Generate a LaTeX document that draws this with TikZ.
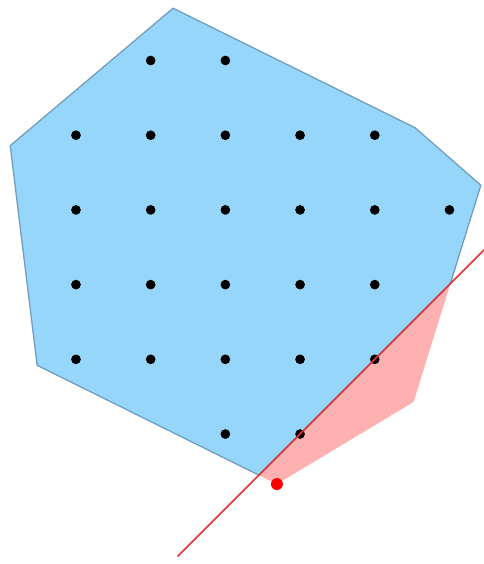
\documentclass[tikz,border=0pt]{standalone}
\usepackage{xcolor}
\usepackage{tikz}

\definecolor{polyblue}{RGB}{150,214,251}
\definecolor{polyedge}{RGB}{115,158,190}
\definecolor{cutpink}{RGB}{255,176,176}
\definecolor{cutred}{RGB}{228,50,55}

\begin{document}
\begin{tikzpicture}[
  lattice/.style={circle, fill=black, inner sep=0pt, minimum size=0.13cm},
  optpt/.style={circle, fill=red, inner sep=0pt, minimum size=0.16cm},
  cutline/.style={cutred, line width=0.6pt},
  relax/.style={fill=polyblue, draw=polyedge, line width=0.5pt}
]
  \useasboundingbox (-1.017,-1.740) rectangle (5.449,5.810);

  % corners of the relaxation
  \coordinate (v1) at (1.30,5.70);
  \coordinate (v2) at (4.54,4.10);
  \coordinate (v3) at (5.42,3.33);
  \coordinate (v4) at (4.52,0.43);
  \coordinate (v5) at (2.69,-0.67);
  \coordinate (v6) at (-0.52,0.92);
  \coordinate (v7) at (-0.88,3.86);
  % where the cut meets the boundary
  \coordinate (c1) at (5.01,2.01);
  \coordinate (c2) at (2.449,-0.551);
  % ends of the cut
  \coordinate (cutlo) at (1.36,-1.64);
  \coordinate (cuthi) at (5.47,2.47);

  % part cut off
  \fill[cutpink] (c1) -- (v4) -- (v5) -- (c2) -- cycle;
  % part kept
  \filldraw[relax] (v1) -- (v2) -- (v3) -- (c1) -- (c2) -- (v6) -- (v7) -- cycle;

  % integer points
  \foreach \i/\j in {1/5, 2/5,
                     0/4, 1/4, 2/4, 3/4, 4/4,
                     0/3, 1/3, 2/3, 3/3, 4/3, 5/3,
                     0/2, 1/2, 2/2, 3/2, 4/2,
                     0/1, 1/1, 2/1, 3/1, 4/1,
                     2/0, 3/0}
    \node[lattice] (p\i\j) at (\i,\j) {};

  % the cut and the fractional vertex
  \draw[cutline] (cutlo) -- (cuthi);
  \node[optpt] (frac) at (v5) {};
\end{tikzpicture}
\end{document}
